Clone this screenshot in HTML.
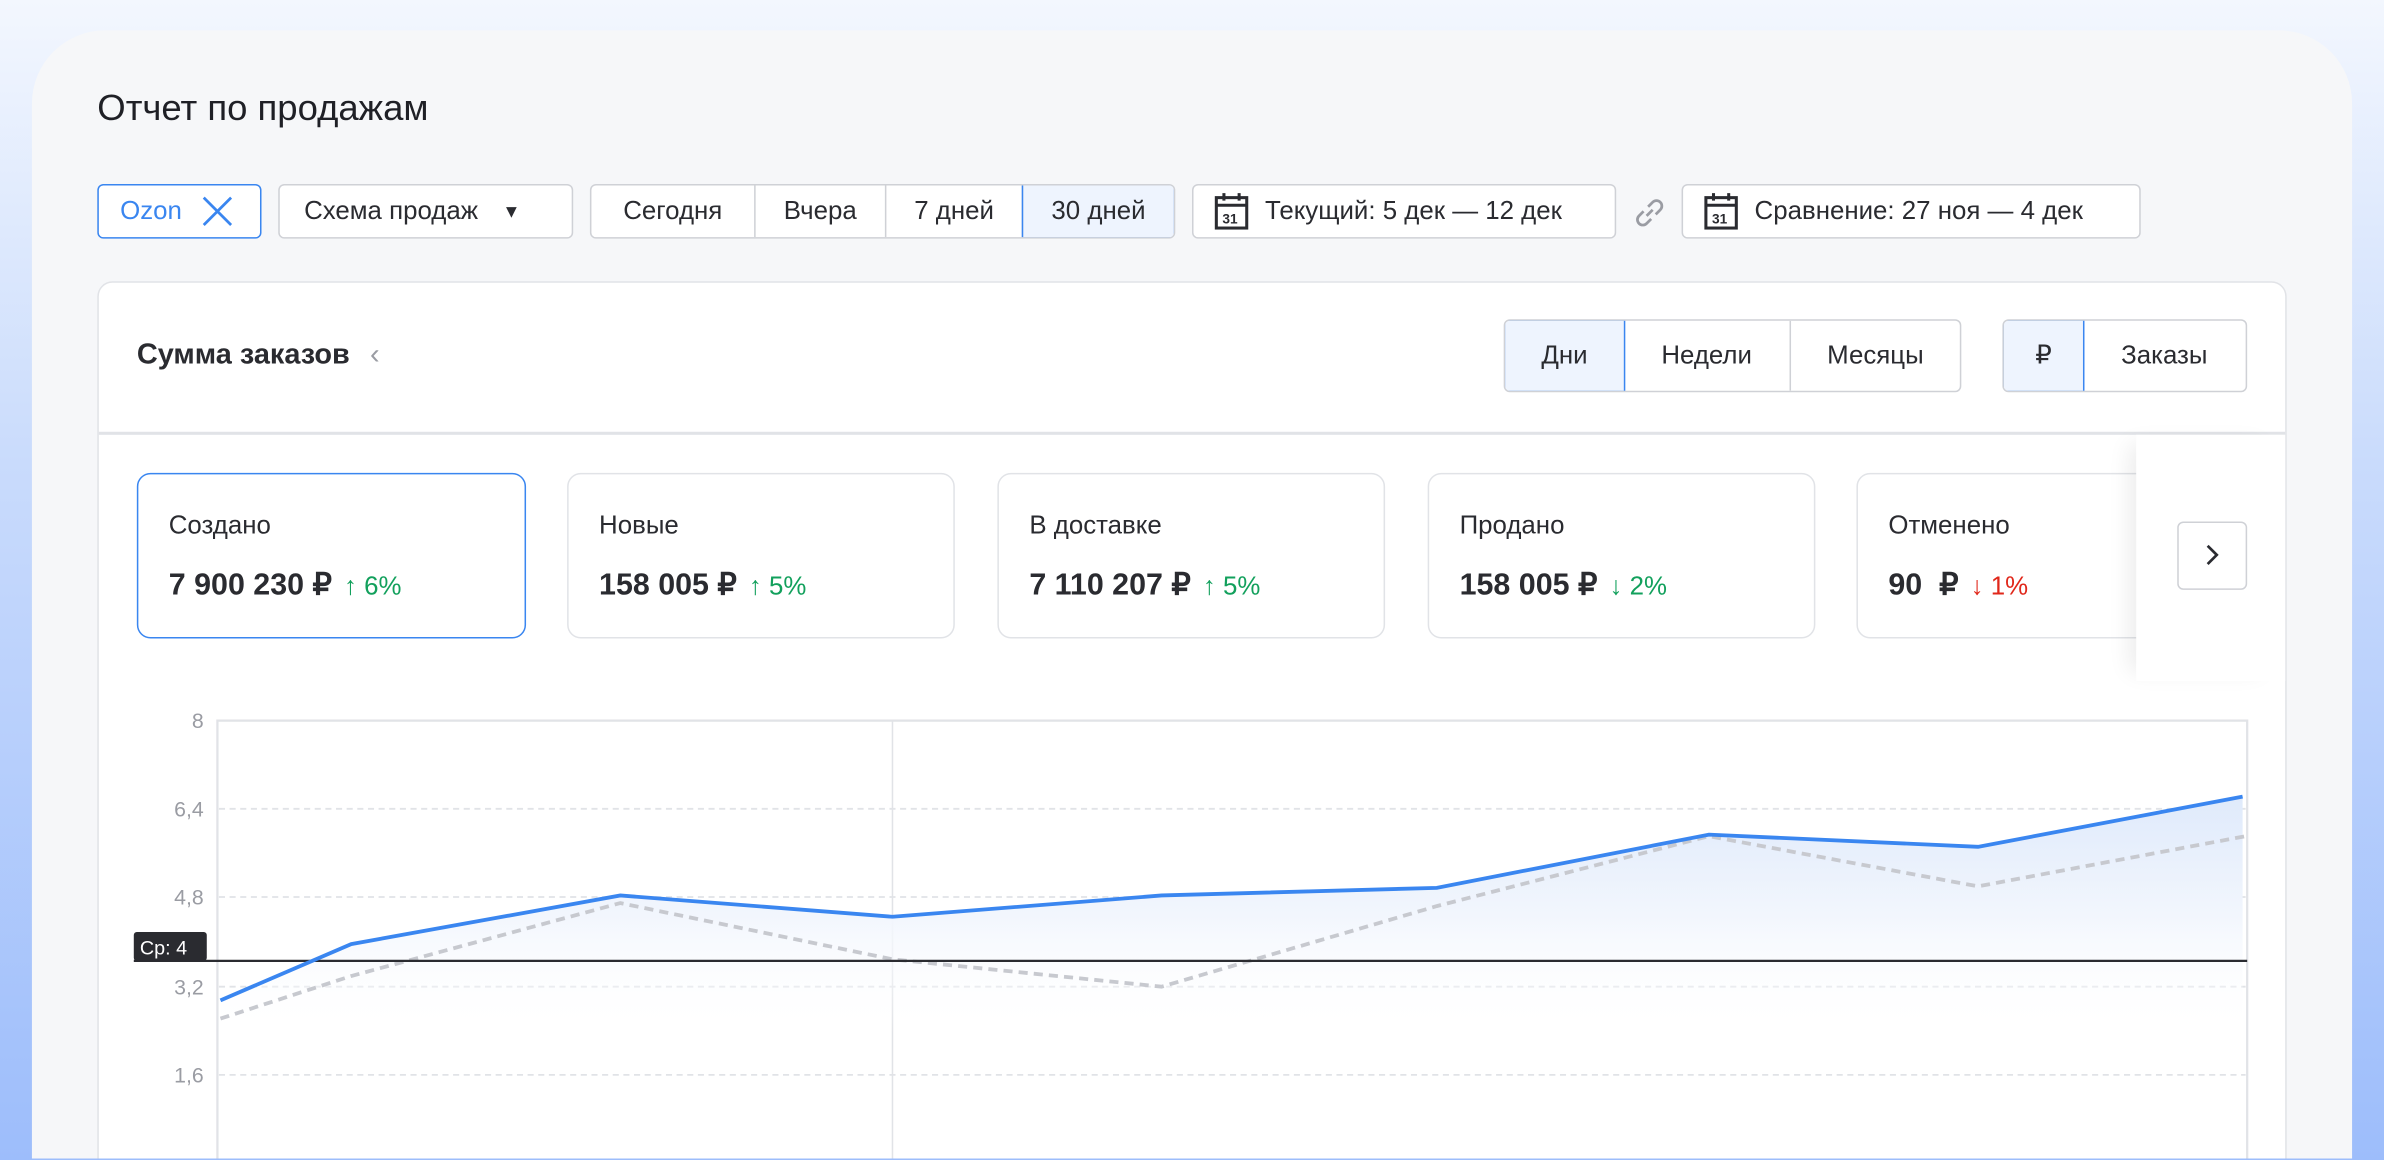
<!DOCTYPE html>
<html><head><meta charset="utf-8"><style>
html,body{margin:0;padding:0;width:2384px;height:1160px;overflow:hidden}
#wrap{position:relative;width:2384px;height:1160px;overflow:hidden;background:linear-gradient(180deg,#f3f7fe 0%,#c9dbfc 40%,#9dbdfb 100%)}
#s{position:absolute;left:0;top:0;width:1568px;height:762px;overflow:hidden;transform:scale(1.52041,1.5203);transform-origin:0 0;font-family:"Liberation Sans",sans-serif;color:#2a2b30}
.a{position:absolute;box-sizing:border-box}
.card{left:21px;top:20px;width:1526px;height:742px;background:#f6f7f9;border-radius:48px 48px 0 0}
.btn{background:#fff;border:1.5px solid #cfd1d6;border-radius:4px;height:36px;top:121px;font-size:17px;display:flex;align-items:center;justify-content:center;white-space:nowrap}
.seg{border-right:1px solid #cfd1d6;height:100%;display:flex;align-items:center;justify-content:center}
.kpi{top:311px;height:109px;background:#fff;border:1.5px solid #e1e3e7;border-radius:9px;padding:24px 0 0 20px}
.kpi .t{font-size:17px;margin-bottom:16px}
.kpi .v{font-size:20px;font-weight:bold}
.g{color:#12a05c;font-weight:normal;font-size:17px;margin-left:8px}
.r{color:#e0271a;font-weight:normal;font-size:17px;margin-left:8px}
.yl{position:absolute;left:100px;width:34px;text-align:right;font-size:14px;color:#9a9ca3}
</style></head><body><div id="wrap"><div id="s">
<div class="a card"></div>
<div class="a" style="left:64px;top:58px;font-size:24px;color:#1f2026">Отчет по продажам</div>

<div class="a btn" style="left:64px;width:108px;border-color:#3a86f0;color:#3a86f0;justify-content:flex-start;padding-left:14px">Ozon<svg width="22" height="22" style="margin-left:12px"><path d="M2 2L20 20M20 2L2 20" stroke="#3a86f0" stroke-width="1.8"/></svg></div>
<div class="a btn" style="left:183px;width:194px;justify-content:flex-start;padding-left:16px">Схема продаж<span style="margin-left:16px;font-size:12px">▼</span></div>
<div class="a btn" style="left:388px;width:385px;justify-content:flex-start;overflow:hidden">
<div class="seg" style="width:107px">Сегодня</div><div class="seg" style="width:85px">Вчера</div><div class="seg" style="width:89px">7 дней</div><div class="seg" style="flex:1;background:#eef4fe;outline:1.5px solid #3a86f0;border:none">30 дней</div></div>
<div class="a btn" style="left:784px;width:279px;justify-content:flex-start;padding-left:13px"><svg width="24" height="26" style="margin-right:10px"><rect x="2" y="4" width="20" height="20" fill="none" stroke="#2a2b30" stroke-width="2"/><line x1="2" y1="9" x2="22" y2="9" stroke="#2a2b30" stroke-width="2"/><line x1="7" y1="1" x2="7" y2="6" stroke="#2a2b30" stroke-width="2"/><line x1="17" y1="1" x2="17" y2="6" stroke="#2a2b30" stroke-width="2"/><text x="6" y="21" font-size="9" font-weight="bold" fill="#2a2b30">31</text></svg>Текущий: 5 дек — 12 дек</div>
<svg class="a" style="left:1072px;top:127px" width="26" height="26"><path d="M11 15l4-4M9 12l-3 3a3.5 3.5 0 0 0 5 5l3-3M17 14l3-3a3.5 3.5 0 0 0-5-5l-3 3" stroke="#9a9ca3" stroke-width="1.8" fill="none"/></svg>
<div class="a btn" style="left:1106px;width:302px;justify-content:flex-start;padding-left:13px"><svg width="24" height="26" style="margin-right:10px"><rect x="2" y="4" width="20" height="20" fill="none" stroke="#2a2b30" stroke-width="2"/><line x1="2" y1="9" x2="22" y2="9" stroke="#2a2b30" stroke-width="2"/><line x1="7" y1="1" x2="7" y2="6" stroke="#2a2b30" stroke-width="2"/><line x1="17" y1="1" x2="17" y2="6" stroke="#2a2b30" stroke-width="2"/><text x="6" y="21" font-size="9" font-weight="bold" fill="#2a2b30">31</text></svg>Сравнение: 27 ноя — 4 дек</div>

<div class="a" style="left:64px;top:185px;width:1440px;height:590px;background:#fff;border:1.5px solid #e1e3e7;border-radius:10px"></div>
<div class="a" style="left:90px;top:223px;font-size:19px;font-weight:bold;color:#2a2b30">Сумма заказов <span style="color:#9a9ca3;font-weight:normal;margin-left:8px">‹</span></div>
<div class="a btn" style="left:989px;top:210px;height:48px;width:301px;justify-content:flex-start;overflow:hidden">
<div class="seg" style="width:78px;background:#eef4fe;outline:1.5px solid #3a86f0;border:none">Дни</div><div class="seg" style="width:109px">Недели</div><div class="seg" style="flex:1;border:none">Месяцы</div></div>
<div class="a btn" style="left:1317px;top:210px;height:48px;width:161px;justify-content:flex-start;overflow:hidden">
<div class="seg" style="width:52px;background:#eef4fe;outline:1.5px solid #3a86f0;border:none">₽</div><div class="seg" style="flex:1;border:none">Заказы</div></div>
<div class="a" style="left:65px;top:284px;width:1438px;height:1.5px;background:#e1e3e7"></div>

<div class="a kpi" style="left:90px;width:256px;border-color:#3a86f0"><div class="t">Создано</div><div class="v">7 900 230 ₽<span class="g">↑ 6%</span></div></div>
<div class="a kpi" style="left:373px;width:255px"><div class="t">Новые</div><div class="v">158 005 ₽<span class="g">↑ 5%</span></div></div>
<div class="a kpi" style="left:656px;width:255px"><div class="t">В доставке</div><div class="v">7 110 207 ₽<span class="g">↑ 5%</span></div></div>
<div class="a kpi" style="left:939px;width:255px"><div class="t">Продано</div><div class="v">158 005 ₽<span class="g">↓ 2%</span></div></div>
<div class="a kpi" style="left:1221px;width:255px"><div class="t">Отменено</div><div class="v">90&nbsp; ₽<span class="r">↓ 1%</span></div></div>
<div class="a" style="left:1405px;top:286px;width:98px;height:162px;background:#fff;box-shadow:-10px 0 14px -6px rgba(0,0,0,0.08)"></div>
<div class="a" style="left:1432px;top:343px;width:46px;height:45px;background:#fff;border:1.5px solid #cfd1d6;border-radius:4px"><svg width="44" height="42"><path d="M19 15l6 6-6 6" stroke="#2a2b30" stroke-width="1.8" fill="none"/></svg></div>

<svg class="a" style="left:0;top:0" width="1568" height="762">
<defs><linearGradient id="f" x1="0" y1="0" x2="0" y2="1"><stop offset="0" stop-color="#dfeafb"/><stop offset="0.5" stop-color="#f2f6fd"/><stop offset="1" stop-color="#fff" stop-opacity="0"/></linearGradient></defs>
<rect x="143" y="474" width="1335" height="300" fill="none" stroke="#e1e3e7" stroke-width="1.5"/>
<line x1="587" y1="474" x2="587" y2="762" stroke="#e1e3e7"/>
<g stroke="#e1e3e7" stroke-dasharray="4 3" stroke-width="1.2"><line x1="144" y1="532" x2="1477" y2="532"/><line x1="144" y1="590" x2="1477" y2="590"/><line x1="144" y1="649" x2="1477" y2="649"/><line x1="144" y1="707" x2="1477" y2="707"/></g>
<path d="M145,658 L231,621 L408,589 L587,603 L764,589 L945,584 L1124,549 L1301,557 L1475,524 L1475,680 L145,680Z" fill="url(#f)"/>
<polyline points="145,670 231,642 408,594 587,631 764,649 945,596 1124,550 1301,583 1477,550" fill="none" stroke="#c7c9cf" stroke-width="2.5" stroke-dasharray="6 4"/>
<line x1="88" y1="632" x2="1478" y2="632" stroke="#2a2b30" stroke-width="1.5"/>
<polyline points="145,658 231,621 408,589 587,603 764,589 945,584 1124,549 1301,557 1475,524" fill="none" stroke="#3a86f0" stroke-width="2.5"/>
<rect x="88" y="613" width="48" height="19" rx="2" fill="#2a2b30"/>
<text x="92" y="628" font-size="13" fill="#fff" font-family="Liberation Sans">Ср: 4</text>
</svg>
<div class="yl" style="top:466px">8</div>
<div class="yl" style="top:524px">6,4</div>
<div class="yl" style="top:582px">4,8</div>
<div class="yl" style="top:641px">3,2</div>
<div class="yl" style="top:699px">1,6</div>
</div></div></body></html>
